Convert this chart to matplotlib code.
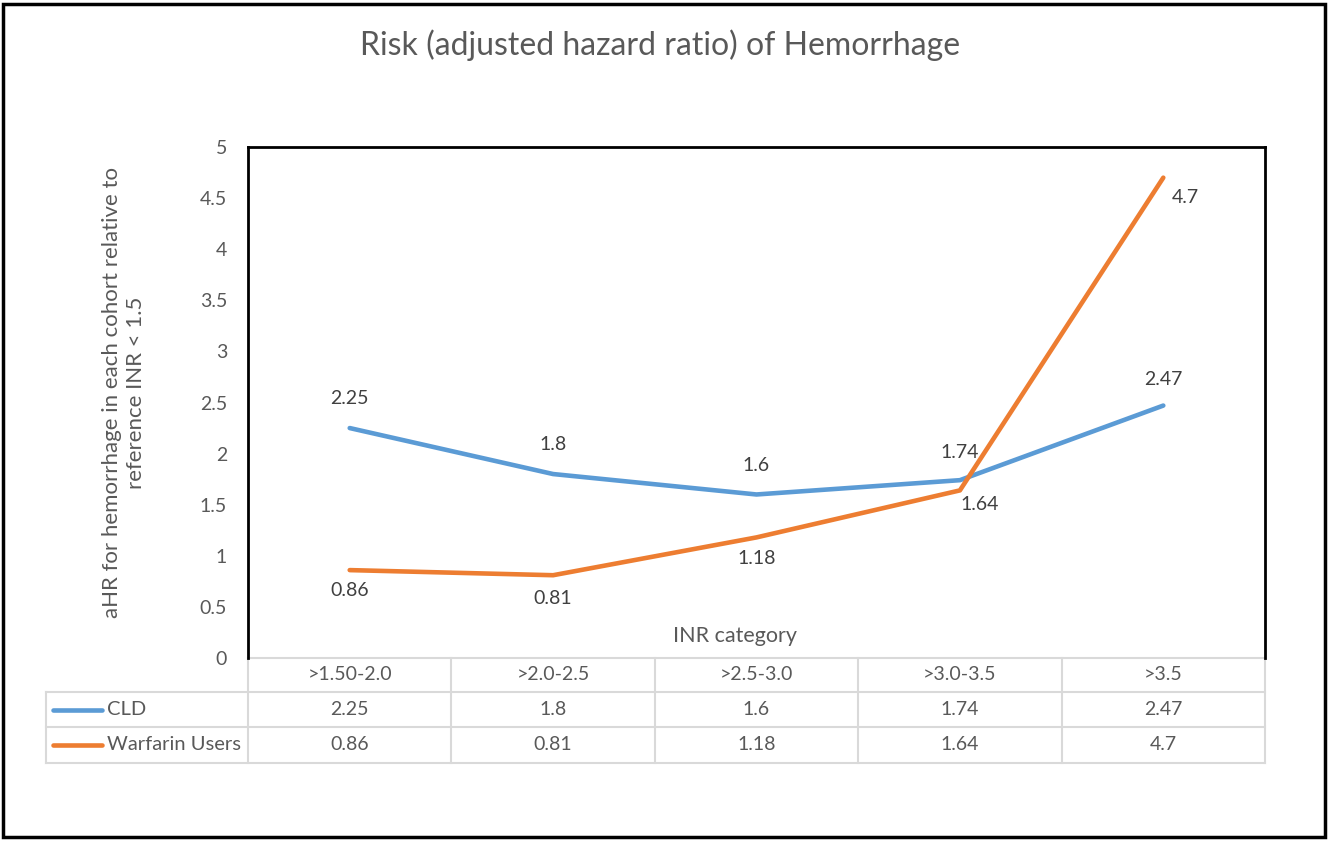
import matplotlib
matplotlib.use("Agg")
import matplotlib.pyplot as plt
from matplotlib.transforms import blended_transform_factory
from matplotlib.patches import Rectangle

# ---- data ----
categories = [">1.50-2.0", ">2.0-2.5", ">2.5-3.0", ">3.0-3.5", ">3.5"]
cld = [2.25, 1.8, 1.6, 1.74, 2.47]
warfarin = [0.86, 0.81, 1.18, 1.64, 4.7]
series_names = ["CLD", "Warfarin Users"]
yticks = [0, 0.5, 1, 1.5, 2, 2.5, 3, 3.5, 4, 4.5, 5]

# ---- style ----
plt.rcParams['font.family'] = ['Lato', 'DejaVu Sans']
BLUE = '#5B9BD5'
ORANGE = '#ED7D31'
GREY_TXT = '#595959'
LBL_TXT = '#404040'
GRID = '#D9D9D9'
FS = 14
# label offsets (points) for each series' data labels
cld_offsets = [(0, 21), (0, 21), (0, 21), (0, 20), (0, 19)]
war_offsets = [(0, -15), (0, -17), (0, -15), (14, -10), (16, -14)]

W, H = 1329, 841
fig = plt.figure(figsize=(W / 100, H / 100), dpi=100)

# pixel overlay axes
ov = fig.add_axes([0, 0, 1, 1], zorder=0)
ov.set_xlim(0, W)
ov.set_ylim(H, 0)
ov.axis('off')

ax = fig.add_axes([248 / W, 1 - 658 / H, (1265 - 248) / W, (658 - 147) / H], zorder=2)
ax.patch.set_alpha(0)
x = list(range(len(categories)))
ax.plot(x, cld, color=BLUE, lw=3.3, solid_capstyle='round', solid_joinstyle='round', zorder=3)
ax.plot(x, warfarin, color=ORANGE, lw=3.3, solid_capstyle='round', solid_joinstyle='round', zorder=3)
ax.set_xlim(-0.5, len(categories) - 0.5)
ax.set_ylim(0, 5)
ax.set_yticks(yticks)
ax.set_yticklabels([f"{v:g}" for v in yticks])
ax.set_xticks([])
ax.tick_params(axis='y', length=0, pad=15, labelsize=FS, labelcolor=GREY_TXT)
for s in ['left', 'top', 'right']:
    ax.spines[s].set_color('black')
    ax.spines[s].set_linewidth(2)
ax.spines['bottom'].set_visible(False)

for xi, v, off in zip(x, cld, cld_offsets):
    ax.annotate(f"{v:g}", (xi, v), xytext=off, textcoords='offset points',
                ha='center', va='center', fontsize=FS, color=LBL_TXT)
for xi, v, off in zip(x, warfarin, war_offsets):
    ax.annotate(f"{v:g}", (xi, v), xytext=off, textcoords='offset points',
                ha='center', va='center', fontsize=FS, color=LBL_TXT)

# ---- data table ----
tr = blended_transform_factory(ax.transData, ov.transData)
left_data = ax.transData.inverted().transform(ov.transData.transform((46, 0)))[0]
rows_y = [658, 692, 727, 763]
n = len(categories)
ov.plot([-0.5, n - 0.5], [rows_y[0]] * 2, transform=tr, color=GRID, lw=1.5, clip_on=False)
for yy in rows_y[1:]:
    ov.plot([left_data, n - 0.5], [yy] * 2, transform=tr, color=GRID, lw=1.5, clip_on=False)
for i in range(n + 1):
    ov.plot([i - 0.5] * 2, [rows_y[0], rows_y[-1]], transform=tr, color=GRID, lw=1.5, clip_on=False)
ov.plot([left_data] * 2, [rows_y[1], rows_y[-1]], transform=tr, color=GRID, lw=1.5, clip_on=False)

hy = (rows_y[0] + rows_y[1]) / 2
for i, c in enumerate(categories):
    ov.text(i, hy, c, transform=tr, ha='center', va='center', fontsize=FS, color=GREY_TXT)
for r, (name, vals, col) in enumerate(zip(series_names, [cld, warfarin], [BLUE, ORANGE])):
    cy = (rows_y[r + 1] + rows_y[r + 2]) / 2
    for i, v in enumerate(vals):
        ov.text(i, cy, f"{v:g}", transform=tr, ha='center', va='center', fontsize=FS, color=GREY_TXT)
    ov.plot([53, 102], [cy, cy], color=col, lw=3.3, solid_capstyle='round')
    ov.text(107, cy, name, ha='left', va='center', fontsize=14.5, color=GREY_TXT)

# ---- texts ----
ov.text(660, 45, "Risk (adjusted hazard ratio) of Hemorrhage", ha='center', va='center',
        fontsize=23, color=GREY_TXT)
ov.text(735, 636, "INR category", ha='center', va='center', fontsize=15.5, color=GREY_TXT)
ov.text(124, 393, "aHR for hemorrhage in each cohort relative to\nreference INR < 1.5",
        rotation=90, ha='center', va='center', multialignment='center', fontsize=16,
        color=GREY_TXT, linespacing=1.2)

# outer frame
ov.add_patch(Rectangle((3, 4), 1322, 833, fill=False, ec='black', lw=2.5))

fig.savefig("out.png", dpi=100)
